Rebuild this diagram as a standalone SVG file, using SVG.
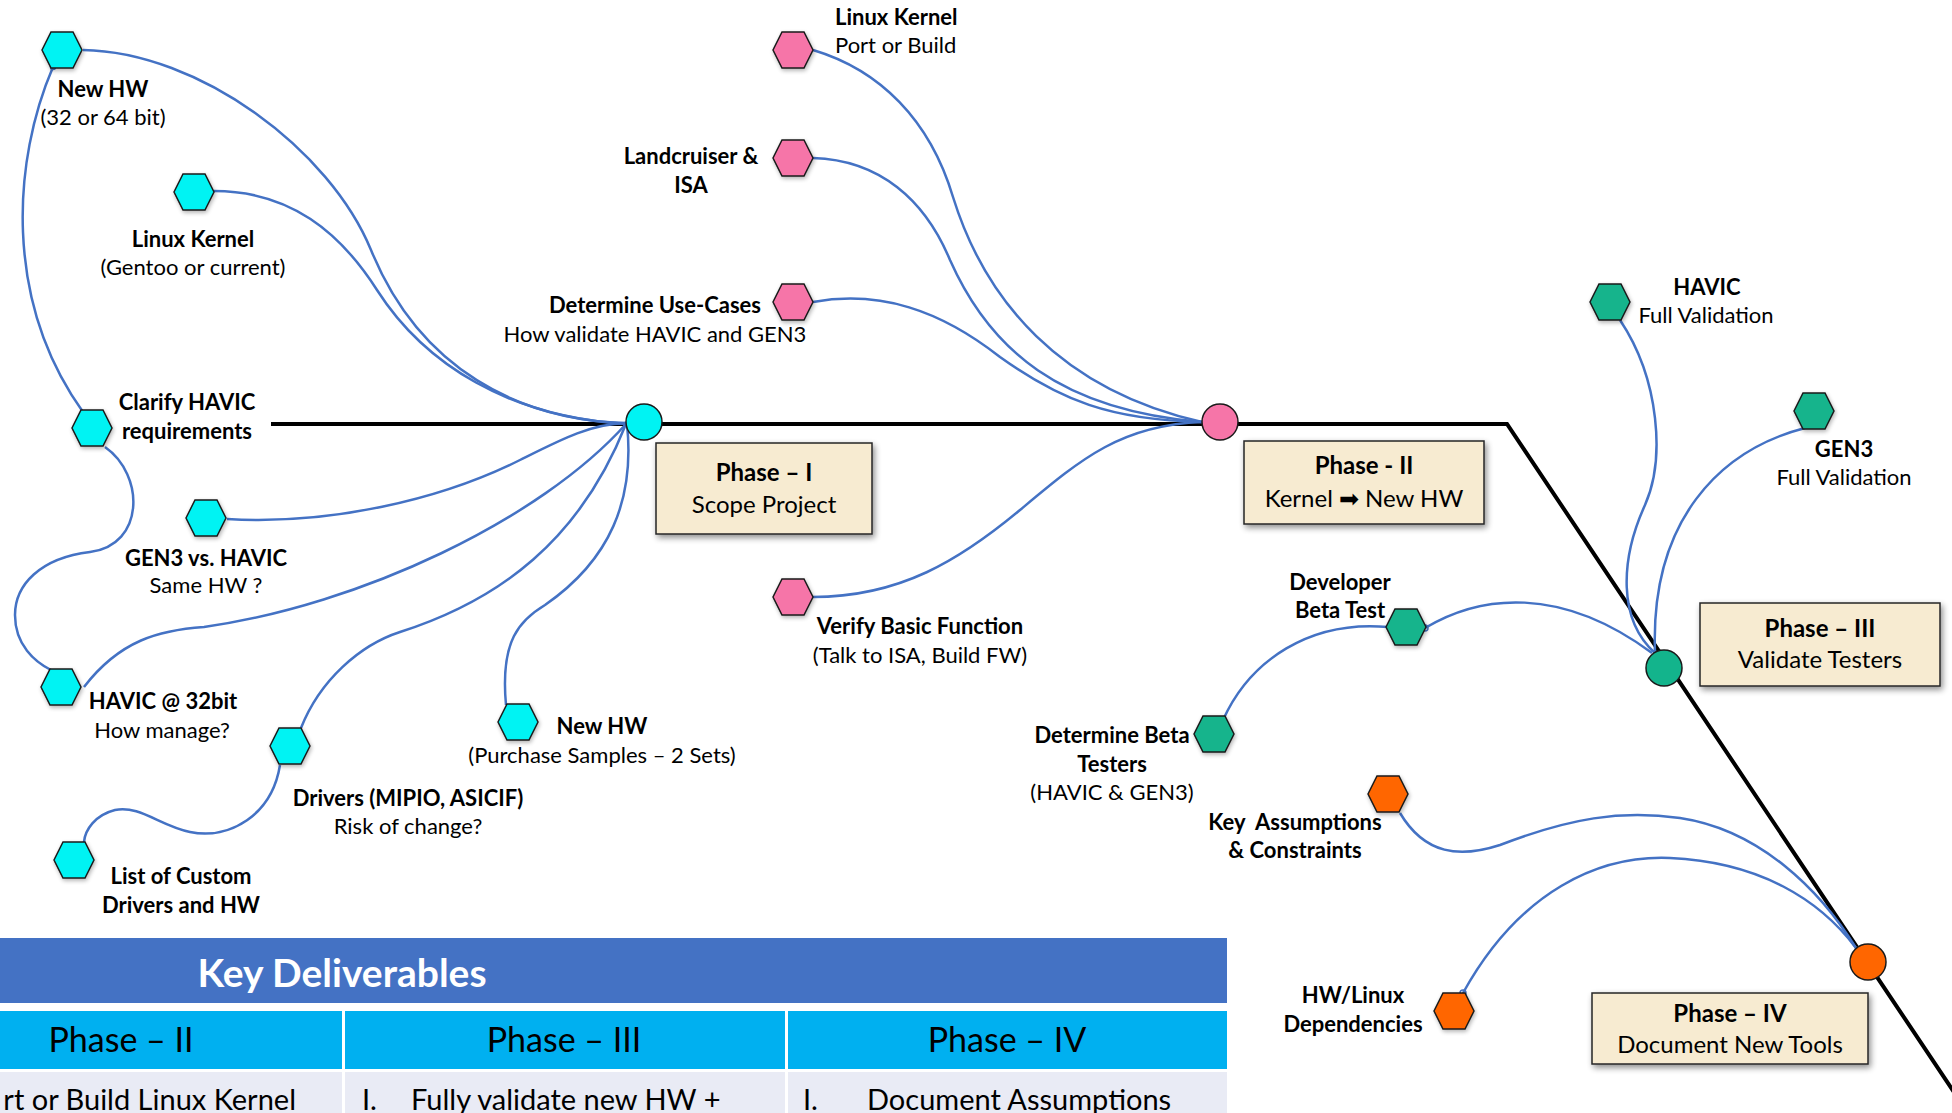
<svg xmlns="http://www.w3.org/2000/svg" xmlns:xlink="http://www.w3.org/1999/xlink" width="1952" height="1113" viewBox="0 0 1952 1113">
<style>
text{font-family:Lato,'Liberation Sans',sans-serif;font-size:22px;fill:#000}
.b{font-weight:700}
.m{text-anchor:middle}
.e{text-anchor:end}
.hx{stroke:#1a1a1a;stroke-width:1.5;filter:url(#hs)}
.cy{fill:#00F3F3}.pk{fill:#F675A8}.gr{fill:#13B48C}.or{fill:#FF6600}
.pc{stroke:#1a1a1a;stroke-width:1.5}
.box{fill:#F7EBD1;stroke:#262626;stroke-width:1.5;filter:url(#sh)}
.pt{font-size:24px}
.spine{fill:none;stroke:#000;stroke-width:4;stroke-linejoin:miter}
#connectors path{fill:none;stroke:#4472C4;stroke-width:2.5}
#connectors circle{fill:none;stroke:#4472C4;stroke-width:1.5}
.kd{font-size:39px;font-weight:700;fill:#fff}
.th{font-size:34px}
.td{font-size:29px}
</style>
<defs>
<path id="hex" d="M-20,0 L-11,-18 L11,-18 L20,0 L11,18 L-11,18 Z"/>
<filter id="sh" x="-10%" y="-10%" width="125%" height="135%">
<feGaussianBlur in="SourceAlpha" stdDeviation="3"/>
<feOffset dx="2" dy="3" result="o"/>
<feComponentTransfer><feFuncA type="linear" slope="0.45"/></feComponentTransfer>
<feMerge><feMergeNode/><feMergeNode in="SourceGraphic"/></feMerge>
</filter>
<filter id="hs" x="-30%" y="-30%" width="170%" height="170%">
<feGaussianBlur in="SourceAlpha" stdDeviation="2"/>
<feOffset dx="1" dy="2" result="o"/>
<feComponentTransfer><feFuncA type="linear" slope="0.3"/></feComponentTransfer>
<feMerge><feMergeNode/><feMergeNode in="SourceGraphic"/></feMerge>
</filter>
</defs>
<rect width="1952" height="1113" fill="#fff"/>

<g id="spine">
<polyline class="spine" points="271,424 1507,424 1968,1113"/>
</g>

<g id="connectors">
<path d="M83,50 C200,52 330,150 371,250 C420,370 520,420 626,423"/>
<path d="M214,191 C290,191 340,232 377,290 C425,365 510,417 626,424"/>
<path d="M53,67 C13,160 3,300 83,412"/>
<path d="M105,447 C145,475 145,545 90,552 C40,558 15,585 15,615 C15,645 35,662 51,670"/>
<path d="M227,519 C330,525 440,500 520,460 C560,440 590,424 626,423"/>
<path d="M84,687 C120,640 160,630 204,627 C360,605 540,520 626,424"/>
<path d="M301,728 C320,680 360,645 400,632 C500,600 580,540 626,424"/>
<path d="M506,705 C500,640 520,620 545,605 C610,560 635,500 627,424"/>
<path d="M280,765 C272,815 230,840 190,832 C160,826 140,805 115,810 C95,815 85,830 84,842"/>
<path d="M813,50 C880,70 930,120 953,197 C985,300 1060,390 1202,422"/>
<path d="M813,158 C880,160 925,200 950,260 C990,350 1060,410 1202,422"/>
<path d="M813,302 C880,290 940,310 1000,357 C1060,400 1110,420 1202,422"/>
<path d="M813,597 C900,597 960,560 1020,510 C1080,460 1120,425 1202,422"/>
<path d="M1620,320 C1660,380 1665,460 1645,505 C1620,560 1618,620 1655,653"/>
<path d="M1805,428 C1720,450 1650,520 1655,653"/>
<path d="M1223,720 C1250,660 1310,620 1388,627"/>
<path d="M1425,628 C1480,595 1560,585 1652,653"/>
<path d="M1400,813 C1425,855 1460,858 1500,845 C1570,818 1620,810 1680,818 C1760,830 1820,890 1856,948"/>
<path d="M1463,993 C1520,890 1600,855 1670,858 C1760,862 1820,900 1856,948"/>
<circle cx="53" cy="67" r="2.5"/>
<circle cx="1425" cy="628" r="3"/>
<circle cx="1223" cy="720" r="3"/>
<circle cx="1463" cy="993" r="3"/>
</g>

<!-- Phase I nodes -->
<g id="n-newhw-bit"><use href="#hex" x="62" y="50" class="hx cy"/>
<text x="103" y="97" class="b m">New HW</text><text x="103" y="125" class="m">(32 or 64 bit)</text></g>
<g id="n-linux-gentoo"><use href="#hex" x="194" y="192" class="hx cy"/>
<text x="193" y="247" class="b m">Linux Kernel</text><text x="193" y="275" class="m">(Gentoo or current)</text></g>
<g id="n-clarify"><use href="#hex" x="92" y="428" class="hx cy"/>
<text x="187" y="410" class="b m">Clarify HAVIC</text><text x="187" y="439" class="b m">requirements</text></g>
<g id="n-gen3vs"><use href="#hex" x="206" y="518" class="hx cy"/>
<text x="206" y="566" class="b m">GEN3 vs. HAVIC</text><text x="206" y="593" class="m">Same HW ?</text></g>
<g id="n-havic32"><use href="#hex" x="61" y="687" class="hx cy"/>
<text x="163" y="709" class="b m">HAVIC @ 32bit</text><text x="162" y="738" class="m">How manage?</text></g>
<g id="n-drivers"><use href="#hex" x="290" y="746" class="hx cy"/>
<text x="408" y="806" class="b m">Drivers (MIPIO, ASICIF)</text><text x="408" y="834" class="m">Risk of change?</text></g>
<g id="n-newhw-purchase"><use href="#hex" x="518" y="722" class="hx cy"/>
<text x="602" y="734" class="b m">New HW</text><text x="602" y="763" class="m">(Purchase Samples – 2 Sets)</text></g>
<g id="n-list"><use href="#hex" x="74" y="860" class="hx cy"/>
<text x="181" y="884" class="b m">List of Custom</text><text x="181" y="913" class="b m">Drivers and HW</text></g>

<!-- Phase II nodes -->
<g id="n-linux-port"><use href="#hex" x="793" y="50" class="hx pk"/>
<text x="835" y="25" class="b">Linux Kernel</text><text x="835" y="53">Port or Build</text></g>
<g id="n-landcruiser"><use href="#hex" x="793" y="158" class="hx pk"/>
<text x="691" y="164" class="b m">Landcruiser &amp;</text><text x="691" y="193" class="b m">ISA</text></g>
<g id="n-usecases"><use href="#hex" x="793" y="302" class="hx pk"/>
<text x="655" y="313" class="b m">Determine Use-Cases</text><text x="655" y="342" class="m">How validate HAVIC and GEN3</text></g>
<g id="n-verify"><use href="#hex" x="793" y="597" class="hx pk"/>
<text x="920" y="634" class="b m">Verify Basic Function</text><text x="920" y="663" class="m">(Talk to ISA, Build FW)</text></g>

<!-- Phase III nodes -->
<g id="n-havic-full"><use href="#hex" x="1610" y="302" class="hx gr"/>
<text x="1707" y="295" class="b m">HAVIC</text><text x="1706" y="323" class="m">Full Validation</text></g>
<g id="n-gen3-full"><use href="#hex" x="1814" y="411" class="hx gr"/>
<text x="1844" y="457" class="b m">GEN3</text><text x="1844" y="485" class="m">Full Validation</text></g>
<g id="n-dev-beta"><use href="#hex" x="1406" y="627" class="hx gr"/>
<text x="1340" y="590" class="b m">Developer</text><text x="1340" y="618" class="b m">Beta Test</text></g>
<g id="n-det-beta"><use href="#hex" x="1214" y="734" class="hx gr"/>
<text x="1112" y="743" class="b m">Determine Beta</text><text x="1112" y="772" class="b m">Testers</text><text x="1112" y="800" class="m">(HAVIC &amp; GEN3)</text></g>

<!-- Phase IV nodes -->
<g id="n-key-assump"><use href="#hex" x="1388" y="794" class="hx or"/>
<text x="1295" y="830" class="b m" style="white-space:pre">Key  Assumptions</text><text x="1295" y="858" class="b m">&amp; Constraints</text></g>
<g id="n-hw-linux"><use href="#hex" x="1454" y="1011" class="hx or"/>
<text x="1353" y="1003" class="b m">HW/Linux</text><text x="1353" y="1032" class="b m">Dependencies</text></g>

<!-- Phase hubs and boxes -->
<g id="phase-1"><circle cx="644" cy="422" r="18" class="pc cy"/>
<rect x="656" y="443" width="216" height="91" class="box"/>
<text x="764" y="481" class="b m pt">Phase – I</text><text x="764" y="513" class="m pt">Scope Project</text></g>
<g id="phase-2"><circle cx="1220" cy="422" r="18" class="pc pk"/>
<rect x="1244" y="441" width="240" height="83" class="box"/>
<text x="1364" y="474" class="b m pt">Phase - II</text><text x="1364" y="507" class="m pt">Kernel ➡ New HW</text></g>
<g id="phase-3"><circle cx="1664" cy="668" r="18" class="pc gr"/>
<rect x="1700" y="603" width="240" height="83" class="box"/>
<text x="1820" y="637" class="b m pt">Phase – III</text><text x="1820" y="668" class="m pt">Validate Testers</text></g>
<g id="phase-4"><circle cx="1868" cy="962" r="18" class="pc or"/>
<rect x="1592" y="993" width="276" height="71" class="box"/>
<text x="1730" y="1022" class="b m pt">Phase – IV</text><text x="1730" y="1053" class="m pt">Document New Tools</text></g>

<!-- Key deliverables table -->
<g id="deliverables">
<rect x="0" y="938" width="1227" height="65" fill="#4472C4"/>
<text x="342" y="987" class="kd m">Key Deliverables</text>
<rect x="0" y="1011" width="342" height="58" fill="#00B0F0"/>
<rect x="345" y="1011" width="440" height="58" fill="#00B0F0"/>
<rect x="788" y="1011" width="439" height="58" fill="#00B0F0"/>
<rect x="0" y="1072" width="342" height="41" fill="#E9EBF5"/>
<rect x="345" y="1072" width="440" height="41" fill="#E9EBF5"/>
<rect x="788" y="1072" width="439" height="41" fill="#E9EBF5"/>
<text x="121" y="1052" class="th m">Phase – II</text>
<text x="564" y="1052" class="th m">Phase – III</text>
<text x="1007" y="1052" class="th m">Phase – IV</text>
<text x="296" y="1110" class="td e">rt or Build Linux Kernel</text>
<text x="362" y="1110" class="td">I.</text><text x="411" y="1110" class="td">Fully validate new HW +</text>
<text x="803" y="1110" class="td">I.</text><text x="867" y="1110" class="td">Document Assumptions</text>
</g>
</svg>
